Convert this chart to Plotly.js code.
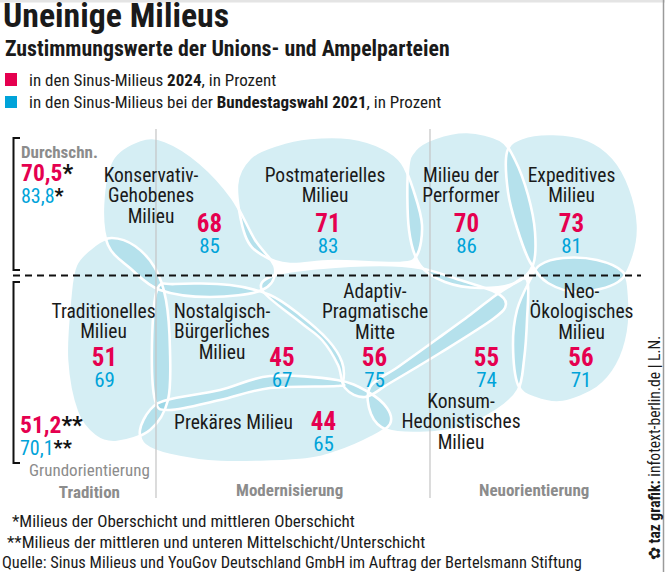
<!DOCTYPE html>
<html><head><meta charset="utf-8">
<script src="https://cdn.plot.ly/plotly-3.0.1.min.js"></script>
<style>html,body{margin:0;padding:0;background:#fff;}#chart{width:665px;height:572px;}</style>
</head><body><div id="chart"></div>
<script>
// ---------- DATA ----------
const milieus = [
  "Konservativ-<br>Gehobenes<br>Milieu",
  "Postmaterielles<br>Milieu",
  "Milieu der<br>Performer",
  "Expeditives<br>Milieu",
  "Traditionelles<br>Milieu",
  "Nostalgisch-<br>Bürgerliches<br>Milieu",
  "Prekäres Milieu",
  "Adaptiv-<br>Pragmatische<br>Mitte",
  "Konsum-<br>Hedonistisches<br>Milieu",
  "Neo-<br>Ökologisches<br>Milieu"
];
const values2024 = [68, 71, 70, 73, 51, 45, 44, 56, 55, 56];
const values2021 = [85, 83, 86, 81, 69, 67, 65, 75, 74, 71];
const avgGroups = ["Oberschicht", "Mittel-/Unterschicht"];
const avg2024 = [70.5, 51.2];
const avg2021 = [83.8, 70.1];
const avgMarks = ["*", "**"];
const orientations = ["Grundorientierung<br><b>Tradition</b>", "<b>Modernisierung</b>", "<b>Neuorientierung</b>"];

// ---------- LAYOUT GEOMETRY (positions, not data) ----------
const labelPos = [[151,177],[325,177],[461,177],[571.5,177],[103.5,313],[222,313],[233.5,424],[375,293],[461,403],[581.5,293]];
const valuePos = [[209.5,226],[328,226],[466.5,226],[571.5,226],[104.5,360],[282,360],[323.5,424],[374.5,360],[486.5,360],[581,360]];
const avgPos = [[20,173],[19,425]];
const orientPos = [[89.5,481],[289,490],[534,490]];
const blobs = [
  [[103,205],[112,160],[140,140],[165,141],[200,163],[232,198],[255,240],[275,268],[262,290],[210,297],[160,290],[130,268],[108,245]],
  [[237,185],[250,158],[277,145],[310,138],[350,138],[383,148],[402,163],[414,192],[422,225],[417,255],[400,263],[333,261],[290,264],[262,255],[245,235]],
  [[408,170],[415,150],[435,138],[467,132],[500,140],[515,160],[528,195],[535,232],[533,265],[515,283],[480,288],[445,282],[420,265],[409,230]],
  [[507,152],[522,138],[553,134],[588,140],[613,158],[630,188],[638,225],[633,258],[618,282],[580,292],[548,283],[530,262],[517,228],[508,192]],
  [[70,300],[76,265],[95,245],[112,238],[135,246],[155,268],[166,300],[170,350],[168,400],[150,430],[117,442],[95,436],[77,412],[67,360]],
  [[157,290],[175,284],[230,285],[270,295],[300,315],[328,340],[342,362],[343,382],[337,386],[270,388],[220,400],[170,410],[155,400],[152,345]],
  [[140,430],[150,410],[167,400],[220,390],[270,376],[337,380],[368,392],[387,408],[390,424],[372,437],[337,452],[300,460],[220,462],[170,455],[145,445]],
  [[262,290],[275,275],[320,268],[380,265],[420,268],[460,280],[495,292],[506,304],[493,319],[440,353],[390,383],[365,397],[345,388],[338,365],[322,340],[300,322]],
  [[370,387],[398,367],[437,339],[470,315],[492,298],[510,286],[527,280],[527,320],[524,360],[518,390],[497,410],[460,428],[420,433],[387,430],[371,414]],
  [[530,280],[540,265],[563,258],[597,260],[623,272],[629,295],[628,332],[617,365],[597,388],[563,402],[535,398],[518,385],[513,345],[517,310]]
];

// ---------- STYLES ----------
const RED = "#e5004f", BLUE = "#00a3d9", GRAY = "#8c8c8c", INK = "#1a1a1a";
const FONT = "'Liberation Sans Narrow', 'Roboto Condensed', 'Arial Narrow', 'Liberation Sans', sans-serif";

function blobPath(pts){
  const n = pts.length, f = v => v.toFixed(2);
  let d = "M" + f(pts[0][0]) + "," + f(pts[0][1]);
  for (let i = 0; i < n; i++){
    const p0 = pts[(i-1+n)%n], p1 = pts[i], p2 = pts[(i+1)%n], p3 = pts[(i+2)%n];
    const c1 = [p1[0]+(p2[0]-p0[0])/6, p1[1]+(p2[1]-p0[1])/6];
    const c2 = [p2[0]-(p3[0]-p1[0])/6, p2[1]-(p3[1]-p1[1])/6];
    d += " C" + f(c1[0]) + "," + f(c1[1]) + " " + f(c2[0]) + "," + f(c2[1]) + " " + f(p2[0]) + "," + f(p2[1]);
  }
  return d + " Z";
}

const shapes = [];
blobs.forEach(b => shapes.push({type:"path", path: blobPath(b), xref:"x", yref:"y", layer:"below",
  fillcolor:"rgba(87,187,211,0.25)", line:{width:0}}));
blobs.forEach(b => shapes.push({type:"path", path: blobPath(b), xref:"x", yref:"y", layer:"below",
  fillcolor:"rgba(0,0,0,0)", line:{color:"#ffffff", width:2.6}}));
// orientation dividers
[156, 430].forEach(x => shapes.push({type:"line", xref:"x", yref:"y", x0:x, x1:x, y0:129, y1:498, layer:"below", line:{color:"#c4c4c4", width:1.2}}));
// dashed separator
shapes.push({type:"line", xref:"x", yref:"y", x0:13, x1:641, y0:275.5, y1:275.5, layer:"below", line:{color:"#111", width:2, dash:"7px,5px"}});
// brackets
[[138,270],[282,463]].forEach(([a,b]) => {
  shapes.push({type:"path", xref:"x", yref:"y", layer:"below", path:`M20,${a} L13.5,${a} L13.5,${b} L20,${b}`, line:{color:"#111", width:2}});
});
// legend squares
shapes.push({type:"rect", xref:"x", yref:"y", x0:5, x1:17, y0:73, y1:86, fillcolor:RED, line:{width:0}, layer:"below"});
shapes.push({type:"rect", xref:"x", yref:"y", x0:5, x1:17, y0:96, y1:108, fillcolor:BLUE, line:{width:0}, layer:"below"});
// frame hints
shapes.push({type:"line", xref:"x", yref:"y", x0:0, x1:665, y0:1, y1:1, line:{color:"#e4e4e4", width:3}, layer:"below"});
shapes.push({type:"line", xref:"x", yref:"y", x0:663.5, x1:663.5, y0:0, y1:572, line:{color:"#9a9a9a", width:1.5}, layer:"below"});

// ---------- TRACES ----------
const traces = [];
const nameX = [], nameY = [], nameT = [];
milieus.forEach((m, i) => {
  m.split("<br>").forEach((line, j) => { nameX.push(labelPos[i][0]); nameY.push(labelPos[i][1] + j*20.5); nameT.push(line); });
});
traces.push({type:"scatter", mode:"text", x:nameX, y:nameY, text:nameT, textposition:"middle center",
  textfont:{family:FONT, size:19.5, color:INK}, hoverinfo:"skip"});
traces.push({type:"scatter", mode:"text", x:valuePos.map(p=>p[0]), y:valuePos.map(p=>p[1]), text:values2024.map(String),
  textposition:"middle center", textfont:{family:FONT, size:25, color:RED, weight:700}, hoverinfo:"skip"});
traces.push({type:"scatter", mode:"text", x:valuePos.map(p=>p[0]), y:valuePos.map(p=>p[1]+21.5), text:values2021.map(String),
  textposition:"middle center", textfont:{family:FONT, size:21, color:BLUE}, hoverinfo:"skip"});

const de = v => v.toFixed(1).replace(".", ",");
const annotations = [];
const ann = (x, y, text, size, color, extra) => annotations.push(Object.assign({x:x, y:y, xref:"x", yref:"y", xanchor:"left", yanchor:"middle",
  showarrow:false, borderpad:0, text:text, font:{family:FONT, size:size, color:color}}, extra || {}));
avgGroups.forEach((g, i) => {
  ann(avgPos[i][0], avgPos[i][1], `<b>${de(avg2024[i])}</b><b><span style="color:#111">${avgMarks[i]}</span></b>`, 23.5, RED);
  ann(avgPos[i][0], avgPos[i][1]+23, `${de(avg2021[i])}<b><span style="color:#111">${avgMarks[i]}</span></b>`, 20, BLUE);
});
ann(20, 152, "<b>Durchschn.</b>", 17, GRAY);
orientations.forEach((o, i) => ann(orientPos[i][0], orientPos[i][1], o, 17, GRAY, {xanchor:"center"}));
// title, subtitle, legend
ann(2, 15, "<b>Uneinige Milieus</b>", 33.8, INK);
ann(4, 48, "<b>Zustimmungswerte der Unions- und Ampelparteien</b>", 21.8, INK);
ann(28, 80, "in den Sinus-Milieus <b>2024</b>, in Prozent", 17, INK);
ann(28, 102, "in den Sinus-Milieus bei der <b>Bundestagswahl 2021</b>, in Prozent", 17, INK);
// footnotes
ann(11, 521, "*Milieus der Oberschicht und mittleren Oberschicht", 17, INK);
ann(6, 542, "**Milieus der mittleren und unteren Mittelschicht/Unterschicht", 17, INK);
ann(0.5, 562, "Quelle: Sinus Milieus und YouGov Deutschland GmbH im Auftrag der Bertelsmann Stiftung", 16.4, INK);
// credit
ann(655, 448, "✿ <b>taz grafik:</b> infotext-berlin.de | L.N.", 15.6, INK, {xanchor:"center", textangle:-90});

const layout = {
  width:665, height:572, autosize:false, showlegend:false,
  margin:{l:0, r:0, t:0, b:0, pad:0},
  paper_bgcolor:"#ffffff", plot_bgcolor:"#ffffff",
  xaxis:{range:[0,665], visible:false, fixedrange:true},
  yaxis:{range:[572,0], visible:false, fixedrange:true},
  shapes:shapes, annotations:annotations
};
Plotly.newPlot("chart", traces, layout, {staticPlot:true, displayModeBar:false});
</script></body></html>
